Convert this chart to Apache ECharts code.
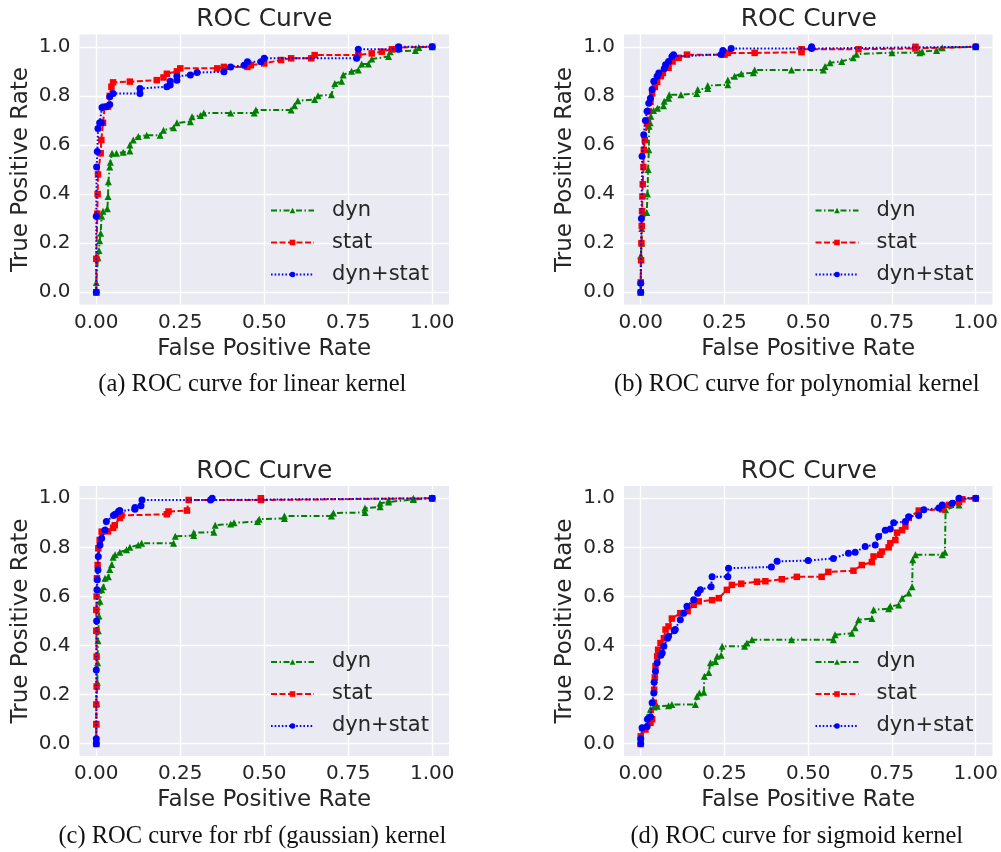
<!DOCTYPE html>
<html>
<head>
<meta charset="utf-8">
<script src="https://cdn.jsdelivr.net/npm/echarts@6/dist/echarts.min.js"></script>
<style>
html, body { margin: 0; padding: 0; background: #fff; }
#chart { width: 1001px; height: 852px; }
</style>
</head>
<body>
<div id="chart"></div>
<script>
// tick labels
const xTicks = [0, 0.25, 0.5, 0.75, 1];
const yTicks = [0, 0.2, 0.4, 0.6, 0.8, 1];
const seriesNames = ['dyn', 'stat', 'dyn+stat'];
const captions = [
    '(a) ROC curve for linear kernel',
    '(b) ROC curve for polynomial kernel',
    '(c) ROC curve for rbf (gaussian) kernel',
    '(d) ROC curve for sigmoid kernel'
];

// (a) linear kernel  [fpr, tpr]
const linearDyn = [[0,0],[0,0.04],[0.005,0.14],[0.008,0.17],[0.01,0.21],[0.013,0.24],[0.016,0.31],[0.02,0.33],[0.033,0.34],[0.035,0.39],[0.036,0.45],[0.04,0.51],[0.042,0.53],[0.047,0.566],[0.06,0.566],[0.08,0.57],[0.1,0.575],[0.1,0.6],[0.11,0.62],[0.125,0.634],[0.15,0.64],[0.19,0.64],[0.2,0.66],[0.23,0.67],[0.24,0.69],[0.28,0.695],[0.285,0.715],[0.31,0.72],[0.32,0.73],[0.4,0.73],[0.47,0.73],[0.475,0.742],[0.58,0.742],[0.59,0.76],[0.6,0.78],[0.65,0.785],[0.66,0.8],[0.7,0.805],[0.71,0.85],[0.73,0.86],[0.735,0.885],[0.76,0.9],[0.78,0.905],[0.79,0.93],[0.81,0.93],[0.82,0.95],[0.87,0.96],[0.875,0.98],[0.95,0.985],[0.96,0.997],[1,1]];
const linearStat = [[0,0],[0,0.136],[0.003,0.32],[0.004,0.4],[0.005,0.48],[0.013,0.566],[0.015,0.62],[0.02,0.69],[0.025,0.756],[0.035,0.756],[0.04,0.8],[0.045,0.837],[0.05,0.855],[0.1,0.858],[0.18,0.864],[0.2,0.875],[0.21,0.89],[0.24,0.9],[0.25,0.912],[0.36,0.912],[0.38,0.918],[0.45,0.918],[0.46,0.925],[0.5,0.932],[0.55,0.946],[0.58,0.953],[0.64,0.953],[0.65,0.966],[0.78,0.966],[0.82,0.973],[0.85,0.98],[0.88,0.99],[0.9,0.997],[1,1]];
const linearBoth = [[0,0],[0,0.31],[0.001,0.51],[0.003,0.573],[0.005,0.667],[0.01,0.69],[0.015,0.69],[0.017,0.753],[0.03,0.756],[0.04,0.765],[0.04,0.796],[0.05,0.81],[0.13,0.81],[0.13,0.83],[0.21,0.837],[0.22,0.844],[0.22,0.86],[0.24,0.864],[0.24,0.88],[0.28,0.885],[0.3,0.895],[0.38,0.898],[0.4,0.918],[0.44,0.925],[0.45,0.939],[0.49,0.939],[0.5,0.953],[0.775,0.953],[0.78,0.99],[0.9,0.99],[0.9,1],[1,1]];

// (b) polynomial kernel
const polyDyn = [[0,0],[0,0.15],[0.003,0.2],[0.003,0.26],[0.005,0.32],[0.018,0.325],[0.02,0.4],[0.022,0.5],[0.024,0.58],[0.025,0.676],[0.028,0.69],[0.03,0.717],[0.038,0.74],[0.05,0.75],[0.068,0.76],[0.07,0.778],[0.083,0.79],[0.085,0.805],[0.12,0.805],[0.167,0.81],[0.17,0.826],[0.2,0.83],[0.2,0.842],[0.26,0.845],[0.26,0.865],[0.28,0.88],[0.3,0.89],[0.336,0.894],[0.34,0.905],[0.45,0.905],[0.545,0.905],[0.55,0.92],[0.565,0.935],[0.6,0.94],[0.634,0.955],[0.644,0.97],[0.75,0.976],[0.833,0.976],[0.84,0.98],[0.883,0.985],[0.9,0.996],[1,1]];
const polyStat = [[0,0],[0,0.04],[0.001,0.13],[0.002,0.2],[0.003,0.27],[0.004,0.33],[0.005,0.39],[0.006,0.44],[0.008,0.51],[0.009,0.58],[0.012,0.62],[0.019,0.69],[0.024,0.737],[0.029,0.776],[0.034,0.81],[0.042,0.836],[0.049,0.857],[0.06,0.88],[0.066,0.893],[0.083,0.914],[0.095,0.94],[0.113,0.955],[0.138,0.968],[0.25,0.968],[0.26,0.975],[0.34,0.975],[0.48,0.978],[0.48,0.99],[0.65,0.99],[0.82,0.993],[0.82,1],[1,1]];
const polyBoth = [[0,0],[0,0.037],[0.002,0.3],[0.004,0.554],[0.009,0.642],[0.014,0.7],[0.019,0.737],[0.024,0.77],[0.029,0.79],[0.034,0.826],[0.039,0.86],[0.049,0.88],[0.054,0.893],[0.07,0.91],[0.074,0.927],[0.083,0.94],[0.093,0.96],[0.098,0.967],[0.24,0.969],[0.245,0.985],[0.27,0.993],[0.51,0.993],[0.51,1],[1,1]];

// (c) rbf (gaussian) kernel
const rbfDyn = [[0,0],[0,0.08],[0.001,0.165],[0.003,0.25],[0.004,0.33],[0.005,0.42],[0.006,0.46],[0.008,0.52],[0.011,0.58],[0.016,0.627],[0.021,0.64],[0.026,0.674],[0.036,0.68],[0.04,0.71],[0.046,0.73],[0.05,0.76],[0.056,0.77],[0.07,0.78],[0.09,0.79],[0.1,0.8],[0.125,0.81],[0.135,0.817],[0.23,0.817],[0.235,0.845],[0.29,0.848],[0.29,0.86],[0.35,0.862],[0.354,0.89],[0.4,0.895],[0.41,0.9],[0.48,0.905],[0.485,0.915],[0.56,0.918],[0.56,0.928],[0.7,0.928],[0.706,0.94],[0.8,0.942],[0.8,0.96],[0.845,0.965],[0.845,0.98],[0.87,0.985],[0.87,0.993],[0.944,0.995],[0.944,1],[1,1]];
const rbfStat = [[0,0],[0,0.08],[0,0.16],[0.001,0.233],[0.001,0.355],[0,0.46],[0,0.545],[0.001,0.6],[0.002,0.674],[0.004,0.728],[0.006,0.796],[0.01,0.83],[0.016,0.864],[0.035,0.865],[0.05,0.88],[0.055,0.89],[0.07,0.92],[0.075,0.93],[0.21,0.935],[0.215,0.946],[0.27,0.95],[0.275,0.993],[0.49,0.993],[0.49,1],[1,1]];
const rbfBoth = [[0,0],[0,0.02],[0,0.3],[0.001,0.5],[0.002,0.627],[0.003,0.668],[0.005,0.708],[0.006,0.763],[0.011,0.81],[0.016,0.837],[0.026,0.871],[0.03,0.905],[0.051,0.93],[0.056,0.935],[0.066,0.946],[0.07,0.95],[0.115,0.955],[0.115,0.962],[0.133,0.97],[0.136,0.993],[0.34,0.993],[0.345,1],[1,1]];

// (d) sigmoid kernel
const sigDyn = [[0,0],[0,0.03],[0.005,0.065],[0.014,0.07],[0.019,0.11],[0.029,0.14],[0.04,0.15],[0.049,0.153],[0.083,0.155],[0.093,0.16],[0.163,0.16],[0.168,0.193],[0.175,0.207],[0.188,0.21],[0.19,0.275],[0.203,0.29],[0.208,0.33],[0.223,0.335],[0.228,0.356],[0.24,0.36],[0.243,0.397],[0.31,0.397],[0.317,0.41],[0.332,0.424],[0.45,0.424],[0.575,0.424],[0.58,0.444],[0.63,0.45],[0.64,0.472],[0.65,0.505],[0.69,0.51],[0.695,0.546],[0.74,0.55],[0.745,0.56],[0.77,0.565],[0.78,0.593],[0.8,0.614],[0.81,0.64],[0.812,0.75],[0.82,0.77],[0.9,0.77],[0.908,0.78],[0.91,0.953],[0.95,0.973],[0.955,1],[1,1]];
const sigStat = [[0,0],[0,0.03],[0.014,0.058],[0.029,0.085],[0.034,0.1],[0.039,0.167],[0.04,0.22],[0.042,0.27],[0.044,0.316],[0.049,0.356],[0.052,0.383],[0.059,0.41],[0.069,0.43],[0.074,0.465],[0.083,0.478],[0.093,0.51],[0.118,0.532],[0.14,0.54],[0.158,0.566],[0.173,0.58],[0.213,0.585],[0.233,0.593],[0.257,0.627],[0.272,0.647],[0.3,0.652],[0.347,0.66],[0.372,0.662],[0.421,0.67],[0.466,0.68],[0.54,0.68],[0.56,0.7],[0.635,0.705],[0.66,0.728],[0.69,0.74],[0.695,0.763],[0.715,0.77],[0.72,0.783],[0.74,0.8],[0.745,0.817],[0.76,0.83],[0.765,0.86],[0.78,0.87],[0.79,0.885],[0.8,0.92],[0.83,0.95],[0.9,0.955],[0.92,0.973],[0.95,0.985],[0.96,0.996],[1,1]];
const sigBoth = [[0,0],[0,0.02],[0.004,0.065],[0.019,0.07],[0.02,0.1],[0.029,0.11],[0.034,0.167],[0.039,0.207],[0.04,0.25],[0.044,0.295],[0.049,0.33],[0.06,0.36],[0.064,0.37],[0.069,0.397],[0.08,0.43],[0.083,0.438],[0.1,0.46],[0.103,0.465],[0.118,0.505],[0.128,0.532],[0.138,0.56],[0.158,0.587],[0.17,0.613],[0.178,0.627],[0.21,0.64],[0.213,0.68],[0.26,0.68],[0.262,0.715],[0.39,0.72],[0.407,0.743],[0.5,0.746],[0.575,0.755],[0.62,0.776],[0.64,0.78],[0.67,0.804],[0.7,0.81],[0.71,0.844],[0.73,0.87],[0.745,0.875],[0.755,0.9],[0.79,0.905],[0.8,0.925],[0.83,0.93],[0.845,0.953],[0.89,0.96],[0.9,0.973],[0.93,0.98],[0.95,1],[1,1]];

const panelData = [
    [linearDyn, linearStat, linearBoth],
    [polyDyn, polyStat, polyBoth],
    [rbfDyn, rbfStat, rbfBoth],
    [sigDyn, sigStat, sigBoth]
];

// layout of the 4 sub plots
const panels = [
    { left: 79.5, top: 34.5 },
    { left: 624, top: 34.5 },
    { left: 79.5, top: 486 },
    { left: 624, top: 486 }
];
const plotW = 369.5, plotH = 270;

const styles = [
    { color: '#008000', symbol: 'triangle', size: 7, dash: [6, 2.5, 1.5, 2.5] },
    { color: '#ff0000', symbol: 'rect', size: 6.5, dash: [6, 2.5] },
    { color: '#0000ff', symbol: 'circle', size: 7, dash: [1.6, 2] }
];

const textColor = '#262626';
const font = 'DejaVu Sans';

let grids = [], xAxes = [], yAxes = [], series = [], legends = [], graphics = [];

panels.forEach(function (p, i) {
    grids.push({
        left: p.left, top: p.top, width: plotW, height: plotH,
        show: true, backgroundColor: '#EAEAF2', borderWidth: 0
    });
    xAxes.push({
        gridIndex: i, type: 'value', min: -0.05, max: 1.05,
        name: 'False Positive Rate', nameLocation: 'middle', nameGap: 33,
        nameTextStyle: { fontSize: 23, color: textColor, fontFamily: font },
        axisLine: { show: false },
        axisTick: { show: false, customValues: xTicks },
        axisLabel: {
            customValues: xTicks, margin: 8, fontSize: 20, color: textColor, fontFamily: font,
            formatter: function (v) { return v.toFixed(2); }
        },
        splitLine: { show: true, lineStyle: { color: '#ffffff', width: 1.3 } }
    });
    yAxes.push({
        gridIndex: i, type: 'value', min: -0.05, max: 1.05,
        name: 'True Positive Rate', nameLocation: 'middle', nameGap: 47,
        nameTextStyle: { fontSize: 23, color: textColor, fontFamily: font },
        axisLine: { show: false },
        axisTick: { show: false, customValues: yTicks },
        axisLabel: {
            customValues: yTicks, margin: 9, fontSize: 20, color: textColor, fontFamily: font,
            formatter: function (v) { return v.toFixed(1); }
        },
        splitLine: { show: true, lineStyle: { color: '#ffffff', width: 1.3 } }
    });
    panelData[i].forEach(function (d, k) {
        const s = styles[k];
        series.push({
            name: seriesNames[k], type: 'line', xAxisIndex: i, yAxisIndex: i,
            data: d, symbol: s.symbol, symbolSize: s.size,
            showSymbol: true, animation: false, z: 2 + k,
            itemStyle: { color: s.color },
            lineStyle: { color: s.color, width: 2, type: s.dash }
        });
    });
    legends.push({
        orient: 'vertical', left: p.left + 190.5, top: p.top + 165.5, padding: 0,
        data: seriesNames, itemWidth: 43, itemHeight: 7, itemGap: 11,
        selectedMode: false,
        textStyle: { fontSize: 21, lineHeight: 21, color: textColor, fontFamily: font, padding: [0, 0, 0, 13] }
    });
    const cx = p.left + 16.8 + 168;
    graphics.push({
        type: 'text', x: cx, y: p.top - 15,
        style: { text: 'ROC Curve', font: '25px "DejaVu Sans"', fill: textColor,
                 align: 'center', verticalAlign: 'middle', textAlign: 'center', textVerticalAlign: 'middle' }
    });
    graphics.push({
        type: 'text', x: cx - 12, y: p.top + 350.5,
        style: { text: captions[i], font: '24.5px "Liberation Serif"', fill: '#111111',
                 align: 'center', verticalAlign: 'middle', textAlign: 'center', textVerticalAlign: 'middle' }
    });
});

const chart = echarts.init(document.getElementById('chart'));
chart.setOption({
    animation: false,
    backgroundColor: '#ffffff',
    grid: grids,
    xAxis: xAxes,
    yAxis: yAxes,
    legend: legends,
    series: series,
    graphic: graphics
});
</script>
</body>
</html>
